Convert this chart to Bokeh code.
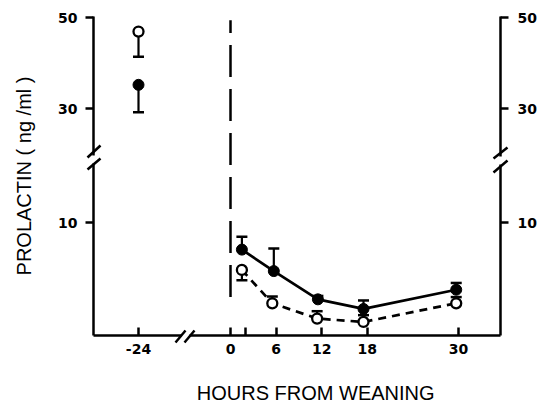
from bokeh.plotting import figure
from bokeh.models import Range1d, LinearAxis, FixedTicker, Arrow, BoxAnnotation, Label
from bokeh.embed import file_html
from bokeh.resources import INLINE

# ---------------- data ----------------
pre_hours = [-24]
pre_open = [46.9]
pre_open_sem = [5.5]
pre_filled = [35.2]
pre_filled_sem = [6.0]

hours_filled = [1.5, 5.7, 11.5, 17.5, 29.7]
filled = [7.6, 5.7, 3.2, 2.35, 4.05]
filled_sem = [1.15, 2.0, 0.3, 0.75, 0.6]

hours_open = [1.5, 5.5, 11.4, 17.5, 29.7]
opened = [5.8, 2.85, 1.5, 1.2, 2.85]
open_sem = [-0.9, 0.6, 0.65, 0.6, 0.55]   # negative = bar drawn downward

x_ticks = [0, 2, 6, 12, 18, 30]
x_tick_labels = ["0", "", "6", "12", "18", "30"]
pre_tick = -24
y_ticks_low = [10]
y_ticks_high = [30, 50]
weaning_hour = 0
weaning_line_span = [3.4, 27.9]

# ---------------- layout (pixel geometry of the page) ----------------
W, H = 541, 404
AX_L, AX_R, AX_T, AX_B = 93, 500, 16, 335      # axis lines
PX_X0, PX_PER_H = 230, 7.6                      # hour 0 position, px per hour
PX_PRE = 138                                    # position of the -24 h point
PX_Y0, PX_PER_LOW = 335, 11.3                   # lower segment: 0 ng/ml, px per ng/ml
PX_Y50, PX_PER_HIGH = 17, 4.55                  # upper segment: 50 ng/ml, px per ng/ml
BLACK = "#000000"
TICK_FONT = "DejaVu Sans"
LABEL_FONT = "Liberation Sans"

main_x = Range1d(-PX_X0 / PX_PER_H, (W - PX_X0) / PX_PER_H)
pre_x = Range1d(-24 - PX_PRE / PX_PER_H, -24 + (W - PX_PRE) / PX_PER_H)
low_y = Range1d((PX_Y0 - H) / PX_PER_LOW, PX_Y0 / PX_PER_LOW)
high_y = Range1d(50 - (H - PX_Y50) / PX_PER_HIGH, 50 + PX_Y50 / PX_PER_HIGH)

p = figure(width=W, height=H, output_backend="svg", toolbar_location=None,
           x_range=main_x, y_range=low_y,
           min_border=0, x_axis_location=None, y_axis_location=None)
p.extra_x_ranges = {"pre": pre_x}
p.extra_y_ranges = {"high": high_y}
p.outline_line_color = None
p.background_fill_color = "white"
p.border_fill_color = "white"
p.grid.visible = False


def conv(v, src, dst):
    return dst.start + (v - src.start) / (src.end - src.start) * (dst.end - dst.start)


def hi_to_low(v):
    return conv(v, high_y, low_y)


def pre_to_main(v):
    return conv(v, pre_x, main_x)


def px_x(x_px):   # page pixel -> main hour scale
    return (x_px - PX_X0) / PX_PER_H


def px_y(y_px):   # page pixel -> lower ng/ml scale
    return (PX_Y0 - y_px) / PX_PER_LOW


def style_axis(ax):
    ax.axis_line_width = 2.5
    ax.axis_line_color = BLACK
    ax.major_tick_line_width = 2.5
    ax.major_tick_line_color = BLACK
    ax.minor_tick_line_color = None
    ax.major_label_text_font = TICK_FONT
    ax.major_label_text_font_style = "bold"
    ax.major_label_text_font_size = "14px"
    ax.major_label_text_color = BLACK


y_tick_pos = list(y_ticks_low) + [hi_to_low(v) for v in y_ticks_high]
y_over = {hi_to_low(v): str(v) for v in y_ticks_high}
y_bounds = (px_y(AX_B), px_y(AX_T))

left = LinearAxis(ticker=FixedTicker(ticks=y_tick_pos), major_label_overrides=y_over,
                  axis_label="PROLACTIN ( ng /ml )", fixed_location=px_x(AX_L), bounds=y_bounds)
style_axis(left)
left.major_tick_in = 0
left.major_tick_out = 8
left.major_label_standoff = 8
left.axis_label_standoff = 20
left.axis_label_text_font = LABEL_FONT
left.axis_label_text_font_style = "normal"
left.axis_label_text_font_size = "20px"
left.axis_label_text_color = BLACK
p.add_layout(left, "left")

right = LinearAxis(ticker=FixedTicker(ticks=y_tick_pos), major_label_overrides=y_over,
                   fixed_location=px_x(AX_R), bounds=y_bounds)
style_axis(right)
right.major_tick_in = 0
right.major_tick_out = 8
right.major_label_standoff = 9
p.add_layout(right, "right")

pre_pos = pre_to_main(pre_tick)
x_over = {t: lab for t, lab in zip(x_ticks, x_tick_labels)}
x_over[pre_pos] = str(pre_tick)
bottom = LinearAxis(ticker=FixedTicker(ticks=[pre_pos] + list(x_ticks)), major_label_overrides=x_over,
                    fixed_location=px_y(AX_B), bounds=(px_x(AX_L), px_x(AX_R)))
style_axis(bottom)
bottom.major_tick_in = 8
bottom.major_tick_out = 0
bottom.major_label_standoff = 8
p.add_layout(bottom, "below")

# weaning marker
p.segment(x0=[weaning_hour], x1=[weaning_hour], y0=[weaning_line_span[0]], y1=[weaning_line_span[1]],
          line_color=BLACK, line_width=2.5, line_dash="32 12")

# lines
p.line(hours_open, opened, line_color=BLACK, line_width=2.7, line_dash="8 6")
p.line(hours_filled, filled, line_color=BLACK, line_width=2.7)


# error bars (one-sided)
def err(xs, ys, sems, **kw):
    tops = [y + s for y, s in zip(ys, sems)]
    p.segment(x0=xs, x1=xs, y0=ys, y1=tops, line_color=BLACK, line_width=2.2, **kw)
    p.scatter(xs, tops, marker="dash", size=11, line_color=BLACK, line_width=2.5, **kw)


err(hours_open, opened, open_sem)
err(hours_filled, filled, filled_sem)
err(pre_hours, pre_open, [-s for s in pre_open_sem], x_range_name="pre", y_range_name="high")
err(pre_hours, pre_filled, [-s for s in pre_filled_sem], x_range_name="pre", y_range_name="high")

p.scatter(hours_open, opened, size=10, fill_color="white", line_color=BLACK, line_width=2.3)
p.scatter(hours_filled, filled, size=11, fill_color=BLACK, line_color=BLACK)
p.scatter(pre_hours, pre_open, size=10, fill_color="white", line_color=BLACK, line_width=2.3,
          x_range_name="pre", y_range_name="high")
p.scatter(pre_hours, pre_filled, size=11, fill_color=BLACK, line_color=BLACK,
          x_range_name="pre", y_range_name="high")


# axis breaks
def gap_box(l, r, t, b):
    p.add_layout(BoxAnnotation(left=px_x(l), right=px_x(r), top=px_y(t), bottom=px_y(b),
                               fill_color="white", fill_alpha=1.0, line_color=None, level="overlay"))


def slash(x0, y0, x1, y1):
    p.add_layout(Arrow(start=None, end=None, x_start=px_x(x0), y_start=px_y(y0),
                       x_end=px_x(x1), y_end=px_y(y1),
                       line_color=BLACK, line_width=2.5, level="overlay"))


gap_box(89, 97, 155, 163)
slash(87, 157, 100, 145)
slash(87, 169, 100, 158)
gap_box(496, 504, 156, 164)
slash(493, 158, 507, 147)
slash(493, 172, 507, 160)
gap_box(181, 189, 331, 339)
slash(175, 342, 185, 330)
slash(184, 342, 194, 330)

p.add_layout(Label(x=px_x(318), y=px_y(392), text="HOURS  FROM WEANING",
                   text_align="center", text_baseline="middle",
                   text_font=LABEL_FONT, text_font_size="20px", text_color=BLACK))

open("out.html", "w").write(file_html(p, INLINE))
